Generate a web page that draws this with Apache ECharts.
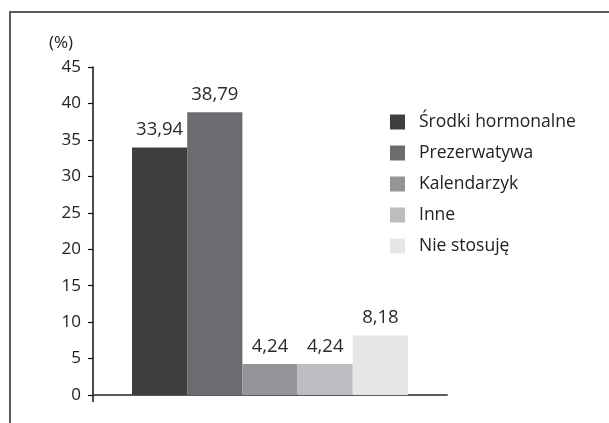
<!DOCTYPE html>
<html>
<head>
<meta charset="utf-8">
<script src="https://cdn.jsdelivr.net/npm/echarts@6/dist/echarts.min.js"></script>
<style>
html,body{margin:0;padding:0;background:#fff;}
#frame{position:absolute;left:9px;top:11px;width:600px;height:412px;border-top:2px solid #5a5a5a;border-left:2px solid #5a5a5a;box-sizing:border-box;}
#chart{position:absolute;left:0;top:0;width:609px;height:423px;}
</style>
</head>
<body>
<div id="frame"></div>
<div id="chart"></div>
<script>
const seriesNames = ['Środki hormonalne', 'Prezerwatywa', 'Kalendarzyk', 'Inne', 'Nie stosuję'];
const seriesValues = [33.94, 38.79, 4.24, 4.24, 8.18];
const seriesColors = ['#3e3e3e', '#6b6c70', '#949598', '#bcbdc0', '#e5e6e7'];
const categories = [''];
const yTicks = [0, 5, 10, 15, 20, 25, 30, 35, 40, 45];

const chart = echarts.init(document.getElementById('chart'), null, {renderer: 'canvas'});
const font = 'Open Sans';
const series = seriesNames.map((n, i) => ({
  name: n,
  type: 'bar',
  data: [seriesValues[i]],
  barWidth: 55.2,
  barGap: '0%',
  itemStyle: {color: seriesColors[i]},
  label: {
    show: true, position: 'top', distance: 8,
    fontFamily: font, fontSize: 18.5, color: '#2a2a2a',
    formatter: p => String(p.value).replace('.', ',')
  }
}));
chart.setOption({
  animation: false,
  backgroundColor: 'transparent',
  grid: {left: 93, right: 162, top: 67, bottom: 28},
  legend: {
    orient: 'vertical', left: 390, top: 112, padding: 0,
    itemWidth: 15, itemHeight: 15, itemGap: 11,
    icon: 'rect',
    textStyle: {fontFamily: font, fontSize: 17.5, lineHeight: 20, color: '#222', padding: [0, 0, 0, 9]},
    data: seriesNames
  },
  xAxis: {
    type: 'category', data: categories,
    axisLine: {lineStyle: {color: '#5a5a5a', width: 2}},
    axisTick: {show: false}, axisLabel: {show: false}
  },
  yAxis: {
    type: 'value', min: yTicks[0], max: yTicks[yTicks.length - 1], interval: 5,
    name: '(%)', nameLocation: 'end', nameGap: 15,
    nameTextStyle: {fontFamily: font, fontSize: 17, color: '#222', align: 'right', padding: [0, 20, 0, 0]},
    axisLine: {show: true, lineStyle: {color: '#111', width: 1.5}},
    axisTick: {show: true, length: 5, lineStyle: {color: '#111', width: 1.2}},
    axisLabel: {fontFamily: font, fontSize: 17, color: '#222', margin: 12},
    splitLine: {show: false}
  },
  series: series
});
const p0 = chart.convertToPixel({gridIndex: 0}, [0, 0]);
const gridLeft = 93;
chart.setOption({
  graphic: [{
    type: 'line', z: 10,
    shape: {x1: gridLeft, y1: p0[1], x2: gridLeft, y2: p0[1] + 7},
    style: {stroke: '#111', lineWidth: 1.5}
  }]
});
</script>
</body>
</html>
